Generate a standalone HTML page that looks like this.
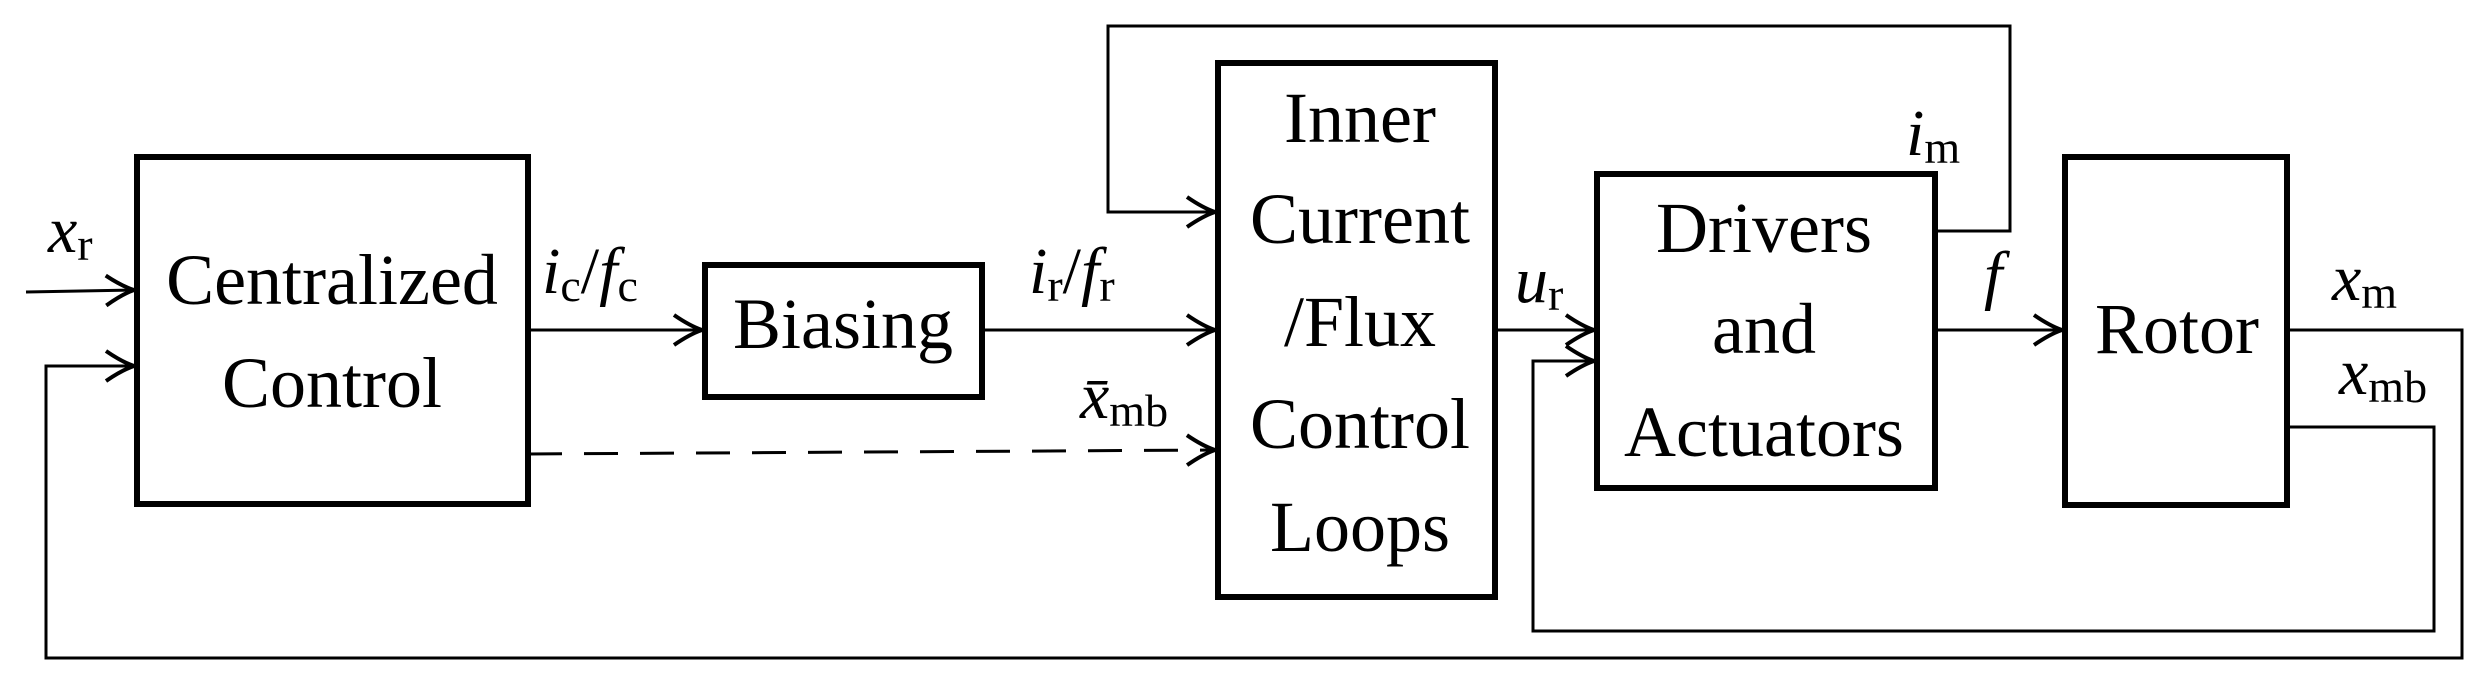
<!DOCTYPE html>
<html><head><meta charset="utf-8"><style>
html,body{margin:0;padding:0;background:#fff;}
svg{display:block;}
text{font-family:"Liberation Serif",serif;fill:#000;}
</style></head><body>
<svg width="2489" height="686" viewBox="0 0 2489 686" xmlns="http://www.w3.org/2000/svg">
<defs>
<marker id="a" markerUnits="userSpaceOnUse" markerWidth="40" markerHeight="40" viewBox="-32 -20 36 40" refX="0" refY="0" orient="auto">
<path d="M-28,-15 Q-12,-4 0,0 Q-12,4 -28,15" fill="none" stroke="#000" stroke-width="4"/>
</marker>
</defs>
<g fill="none" stroke="#000" stroke-width="6">
<rect x="137" y="157" width="391" height="347"/>
<rect x="705" y="265" width="277" height="132"/>
<rect x="1218" y="63" width="277" height="534"/>
<rect x="1597" y="174" width="338" height="314"/>
<rect x="2065" y="157" width="222" height="348"/>
</g>
<g fill="none" stroke="#000" stroke-width="3">
<path d="M26,292 L134,290" marker-end="url(#a)"/>
<path d="M528,330 L702,330" marker-end="url(#a)"/>
<path d="M982,330 L1215,330" marker-end="url(#a)"/>
<path d="M528,454 L1215,450" stroke-dasharray="34,22" marker-end="url(#a)"/>
<path d="M1935,231 L2010,231 L2010,26 L1108,26 L1108,212 L1215,212" marker-end="url(#a)"/>
<path d="M1495,330 L1594,330" marker-end="url(#a)"/>
<path d="M2287,427 L2434,427 L2434,631 L1533,631 L1533,361 L1594,361" marker-end="url(#a)"/>
<path d="M1935,330 L2062,330" marker-end="url(#a)"/>
<path d="M2287,330 L2462,330 L2462,658 L46,658 L46,366 L134,366" marker-end="url(#a)"/>
</g>
<g font-size="72" text-anchor="middle">
<text x="332" y="304">Centralized</text>
<text x="332" y="407">Control</text>
<text x="843" y="348">Biasing</text>
<text x="1360" y="142">Inner</text>
<text x="1360" y="243">Current</text>
<text x="1360" y="346">/Flux</text>
<text x="1360" y="448">Control</text>
<text x="1360" y="551">Loops</text>
<text x="1764" y="252">Drivers</text>
<text x="1764" y="353">and</text>
<text x="1764" y="456">Actuators</text>
<text x="2177" y="353">Rotor</text>
</g>
<g font-size="66">
<text x="48" y="252"><tspan font-style="italic">x</tspan><tspan font-size="46" dy="8">r</tspan></text>
<text x="542" y="293"><tspan font-style="italic">i</tspan><tspan font-size="46" dy="8">c</tspan><tspan dy="-8">/</tspan><tspan font-style="italic">f</tspan><tspan font-size="46" dy="8">c</tspan></text>
<text x="1029" y="293"><tspan font-style="italic">i</tspan><tspan font-size="46" dy="8">r</tspan><tspan dy="-8">/</tspan><tspan font-style="italic">f</tspan><tspan font-size="46" dy="8">r</tspan></text>
<text x="1080" y="418"><tspan font-style="italic">x̄</tspan><tspan font-size="46" dy="8">mb</tspan></text>
<text x="1515" y="302"><tspan font-style="italic">u</tspan><tspan font-size="46" dy="8">r</tspan></text>
<text x="1906" y="155"><tspan font-style="italic">i</tspan><tspan font-size="46" dy="8">m</tspan></text>
<text x="1984" y="297" font-style="italic">f</text>
<text x="2332" y="300"><tspan font-style="italic">x</tspan><tspan font-size="46" dy="8">m</tspan></text>
<text x="2339" y="394"><tspan font-style="italic">x</tspan><tspan font-size="46" dy="8">mb</tspan></text>
</g>
</svg>
</body></html>
